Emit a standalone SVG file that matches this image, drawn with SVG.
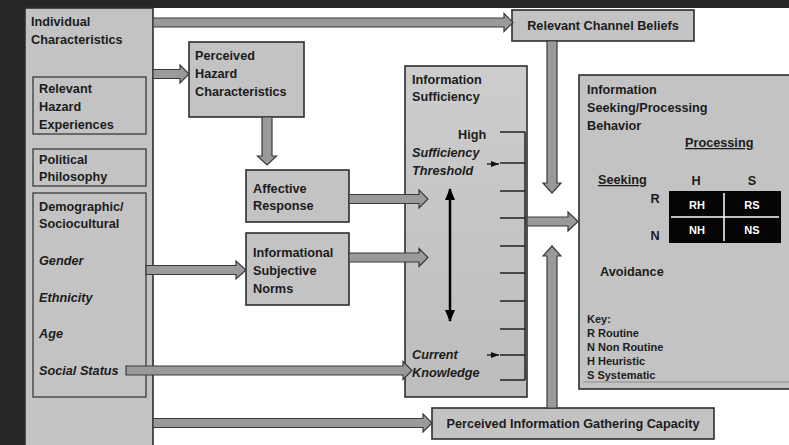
<svg xmlns="http://www.w3.org/2000/svg" width="789" height="445" viewBox="0 0 789 445">
<style>
.bg{fill:#262626}
.box{fill:#c3c3c3;stroke:#2e2e2e;stroke-width:1.6}
.sub{fill:#c3c3c3;stroke:#3a3a3a;stroke-width:1.3}
.t{font-family:"Liberation Sans",Arial,sans-serif;font-weight:bold;font-size:12.7px;fill:#1c1c1c}
.i{font-style:italic}
.k{font-size:11px}
.w{fill:#ffffff;font-size:11px;text-anchor:middle}
.mid{text-anchor:middle}
.arr{fill:#9a9a9a;stroke:#3a3a3a;stroke-width:1.2;stroke-linejoin:miter}
.tick{stroke:#222;stroke-width:1.5;fill:none}
</style>
<defs>
<linearGradient id="isg" x1="0" y1="0" x2="0" y2="1">
<stop offset="0" stop-color="#cdcdcd"/>
<stop offset="1" stop-color="#bdbdbd"/>
</linearGradient>
<marker id="sm" viewBox="0 0 8 6" refX="8" refY="3" markerWidth="8" markerHeight="6" markerUnits="userSpaceOnUse" orient="auto">
<path d="M0,0 L8,3 L0,6 Z" fill="#111"/>
</marker>
<marker id="big" viewBox="0 0 12 10" refX="11" refY="5" markerWidth="12" markerHeight="10" markerUnits="userSpaceOnUse" orient="auto-start-reverse">
<path d="M0,0 L12,5 L0,10 Z" fill="#000"/>
</marker>
</defs>
<rect class="bg" x="0" y="0" width="789" height="445"/>
<rect x="25" y="8" width="764" height="437" fill="#ffffff"/>

<g id="individual-characteristics">
<rect class="box" x="25" y="8" width="128" height="440"/>
<text class="t" x="31" y="26">Individual</text>
<text class="t" x="31" y="44">Characteristics</text>
</g>
<g id="relevant-hazard-experiences">
<rect class="sub" x="33" y="77" width="113" height="57"/>
<text class="t" x="39" y="93">Relevant</text>
<text class="t" x="39" y="111">Hazard</text>
<text class="t" x="39" y="129">Experiences</text>
</g>
<g id="political-philosophy">
<rect class="sub" x="33" y="149" width="113" height="37"/>
<text class="t" x="39" y="164">Political</text>
<text class="t" x="39" y="181">Philosophy</text>
</g>
<g id="demographic">
<rect class="sub" x="33" y="193" width="113" height="204"/>
<text class="t" x="39" y="211">Demographic/</text>
<text class="t" x="39" y="228">Sociocultural</text>
<text class="t i" x="39" y="265">Gender</text>
<text class="t i" x="39" y="302">Ethnicity</text>
<text class="t i" x="39" y="338">Age</text>
<text class="t i" x="39" y="375">Social Status</text>
</g>
<g id="perceived-hazard-characteristics">
<rect class="box" x="189" y="42" width="115" height="75"/>
<text class="t" x="195" y="60">Perceived</text>
<text class="t" x="195" y="78">Hazard</text>
<text class="t" x="195" y="96">Characteristics</text>
</g>
<g id="affective-response">
<rect class="box" x="246" y="170" width="103" height="52"/>
<text class="t" x="253" y="193">Affective</text>
<text class="t" x="253" y="210">Response</text>
</g>
<g id="informational-subjective-norms">
<rect class="box" x="246" y="233" width="103" height="72"/>
<text class="t" x="253" y="257">Informational</text>
<text class="t" x="253" y="275">Subjective</text>
<text class="t" x="253" y="293">Norms</text>
</g>
<g id="relevant-channel-beliefs">
<rect class="box" x="512" y="10" width="182" height="31"/>
<text class="t mid" x="603" y="30">Relevant Channel Beliefs</text>
</g>
<g id="information-sufficiency">
<rect x="405" y="66" width="122" height="331" fill="url(#isg)" stroke="#2e2e2e" stroke-width="1.6"/>
<text class="t" x="412" y="84">Information</text>
<text class="t" x="412" y="101">Sufficiency</text>
<text class="t" x="458" y="139">High</text>
<text class="t i" x="412" y="157">Sufficiency</text>
<text class="t i" x="412" y="175">Threshold</text>
<text class="t i" x="412" y="359">Current</text>
<text class="t i" x="412" y="377">Knowledge</text>
<path class="tick" d="M525,132 V380 M500,132 H525 M500,163 H525 M500,191 H525 M500,218 H525 M500,246 H525 M500,273 H525 M500,301 H525 M500,329 H525 M500,355 H525 M500,380 H525"/>
<line x1="487" y1="164" x2="499" y2="164" stroke="#111" stroke-width="1.3" marker-end="url(#sm)"/>
<line x1="487" y1="355" x2="499" y2="355" stroke="#111" stroke-width="1.3" marker-end="url(#sm)"/>
<line x1="450" y1="189" x2="450" y2="321" stroke="#000" stroke-width="2.5" marker-start="url(#big)" marker-end="url(#big)"/>
</g>
<g id="information-seeking-processing-behavior">
<rect class="box" x="579" y="75" width="215" height="314"/>
<text class="t" x="587" y="94">Information</text>
<text class="t" x="587" y="112">Seeking/Processing</text>
<text class="t" x="587" y="130">Behavior</text>
<text class="t" x="685" y="147" text-decoration="underline">Processing</text>
<text class="t" x="598" y="184" text-decoration="underline">Seeking</text>
<text class="t mid" x="696" y="185">H</text>
<text class="t mid" x="752" y="185">S</text>
<text class="t mid" x="655" y="203">R</text>
<text class="t mid" x="655" y="240">N</text>
<rect x="669" y="191" width="112" height="52" fill="#050505"/>
<line x1="724" y1="193" x2="724" y2="241" stroke="#fff" stroke-width="1.5"/>
<line x1="671" y1="217" x2="779" y2="217" stroke="#fff" stroke-width="1.5"/>
<text class="t w" x="697" y="209">RH</text>
<text class="t w" x="752" y="209">RS</text>
<text class="t w" x="697" y="234">NH</text>
<text class="t w" x="752" y="234">NS</text>
<text class="t" x="600" y="276">Avoidance</text>
<text class="t k" x="587" y="323">Key:</text>
<text class="t k" x="587" y="337">R Routine</text>
<text class="t k" x="587" y="351">N Non Routine</text>
<text class="t k" x="587" y="365">H Heuristic</text>
<text class="t k" x="587" y="379">S Systematic</text>
<line x1="583" y1="382" x2="789" y2="382" stroke="#8a8a8a" stroke-width="1"/>
</g>
<g id="perceived-information-gathering-capacity">
<rect class="box" x="432" y="408" width="282" height="31"/>
<text class="t mid" x="573" y="428">Perceived Information Gathering Capacity</text>
</g>

<g id="connectors">
<polygon class="arr" points="153,18 504,18 504,13.5 513,22.5 504,31.5 504,27 153,27"/>
<polygon class="arr" points="153,69.5 180,69.5 180,65 189,74 180,83 180,78.5 153,78.5"/>
<polygon class="arr" points="262,117 262,156 257.5,156 267,165 276.5,156 272,156 272,117"/>
<polygon class="arr" points="146,265.5 236,265.5 236,261 246,270 236,279 236,274.5 146,274.5"/>
<polygon class="arr" points="349,194.5 419,194.5 419,190 428,199 419,208 419,203.5 349,203.5"/>
<polygon class="arr" points="349,253 419,253 419,248.5 428,257.5 419,266.5 419,262 349,262"/>
<polygon class="arr" points="547,41 547,183 543,183 552,193 561,183 557,183 557,41"/>
<polygon class="arr" points="527,217 568,217 568,212 578,221.5 568,231 568,226 527,226"/>
<polygon class="arr" points="547,408 547,256 543,256 552,246 561,256 557,256 557,408"/>
<polygon class="arr" points="153,418.5 423,418.5 423,414 432,423 423,432 423,427.5 153,427.5"/>
<polygon class="arr" points="126,366 403,366 403,361.5 412,370.5 403,379.5 403,375 126,375"/>
</g>
</svg>
